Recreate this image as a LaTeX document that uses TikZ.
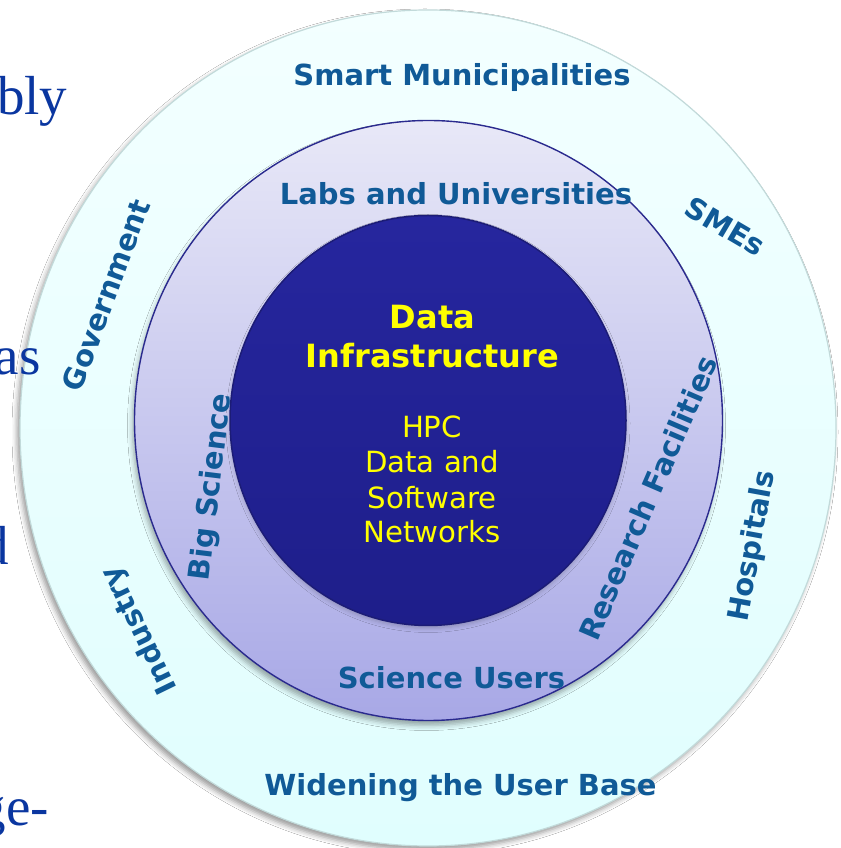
\documentclass[tikz,border=0pt]{standalone}
\usepackage{fontspec}
\newfontfamily\vfont{DejaVu Sans}
\newfontfamily\slidefont{Liberation Serif}
\usetikzlibrary{shapes.geometric,shadows.blur}
\definecolor{lblblue}{HTML}{105A97}
\definecolor{coreyellow}{HTML}{FFFF00}
\definecolor{slideblue}{HTML}{0A36A0}
\definecolor{outertop}{HTML}{F3FFFF}
\definecolor{outerbot}{HTML}{E0FEFE}
\definecolor{outerline}{HTML}{C2DADA}
\definecolor{midtop}{HTML}{E8E8F7}
\definecolor{midbot}{HTML}{A8A8E6}
\definecolor{midline}{HTML}{2A2A8E}
\definecolor{coretop}{HTML}{26269E}
\definecolor{corebot}{HTML}{1E1E8A}
\definecolor{coreline}{HTML}{1C1C76}
\begin{document}
\begin{tikzpicture}[x=1pt,y=1pt,
  ring/.style={ellipse, inner sep=0pt, outer sep=0pt},
  lbl/.style={font=\vfont\bfseries\fontsize{29}{34}\selectfont, text=lblblue, inner sep=0pt},
  coretxt/.style={font=\vfont\bfseries\fontsize{32}{39}\selectfont, text=coreyellow, inner sep=0pt, anchor=base},
  subtxt/.style={font=\vfont\fontsize{29.2}{35}\selectfont, text=coreyellow, inner sep=0pt, anchor=base},
  slidetxt/.style={font=\slidefont\fontsize{55}{60}\selectfont, text=slideblue, inner sep=0pt}]
\useasboundingbox (0,0) rectangle (840,848);
\begin{scope}
\clip (0,0) rectangle (840,848);
\fill[white] (0,0) rectangle (840,848);
% rings
\node[ring, minimum width=816pt, minimum height=836pt, top color=outertop, bottom color=outerbot,
      draw=outerline, line width=1.2pt,
      blur shadow={shadow xshift=-3pt, shadow yshift=-4pt, shadow blur radius=5pt, shadow opacity=40}]
      (outer) at (428,420) {};
\node[ring, minimum width=588pt, minimum height=600pt, top color=midtop, bottom color=midbot,
      draw=midline, line width=1.4pt,
      blur shadow={shadow xshift=-2pt, shadow yshift=-5pt, shadow blur radius=5pt, shadow opacity=35}]
      (middle) at (428.5,427.5) {};
\node[ring, minimum width=396pt, minimum height=410pt, top color=coretop, bottom color=corebot,
      draw=coreline, line width=1.5pt,
      blur shadow={shadow xshift=0pt, shadow yshift=-3pt, shadow blur radius=4pt, shadow opacity=20}]
      (inner) at (428,427.5) {};
% slide text fragments (in front of the rings)
\node[slidetxt, anchor=base west] (t1) at (-3,733) {bly};
\node[slidetxt, anchor=base east] (t2) at (41,473) {as};
\node[slidetxt, anchor=base east] (t3) at (9,283) {d};
\node[slidetxt, anchor=base east] (t4) at (49,23) {ge-};
% horizontal labels
\node[lbl, anchor=base] (smart) at (462,762) {Smart Municipalities};
\node[lbl, anchor=base] (labs) at (456,643) {Labs and Universities};
\node[lbl, anchor=base] (sci) at (451.5,159) {Science Users};
\node[lbl, anchor=base] (widen) at (460.5,52) {Widening the User Base};
% rotated labels
\node[lbl, rotate=69.7] (gov) at (106,553) {Government};
\node[lbl, rotate=83] (big) at (212,361) {Big Science};
\node[lbl, rotate=116] (ind) at (140,218) {Industry};
\node[lbl, rotate=-30.5] (smes) at (725,621.5) {SMEs};
\node[lbl, rotate=66.6] (res) at (648,350) {Research Facilities};
\node[lbl, rotate=79.6] (hosp) at (753,302) {Hospitals};
% core text
\node[coretxt] (data) at (432.5,519) {Data};
\node[coretxt] (infra) at (432.5,480) {Infrastructure};
\node[subtxt] (hpc) at (432,410) {HPC};
\node[subtxt] (dand) at (432,375) {Data and};
\node[subtxt] (soft) at (432,339) {Software};
\node[subtxt] (net) at (432,305) {Networks};
\end{scope}
\end{tikzpicture}
\end{document}
